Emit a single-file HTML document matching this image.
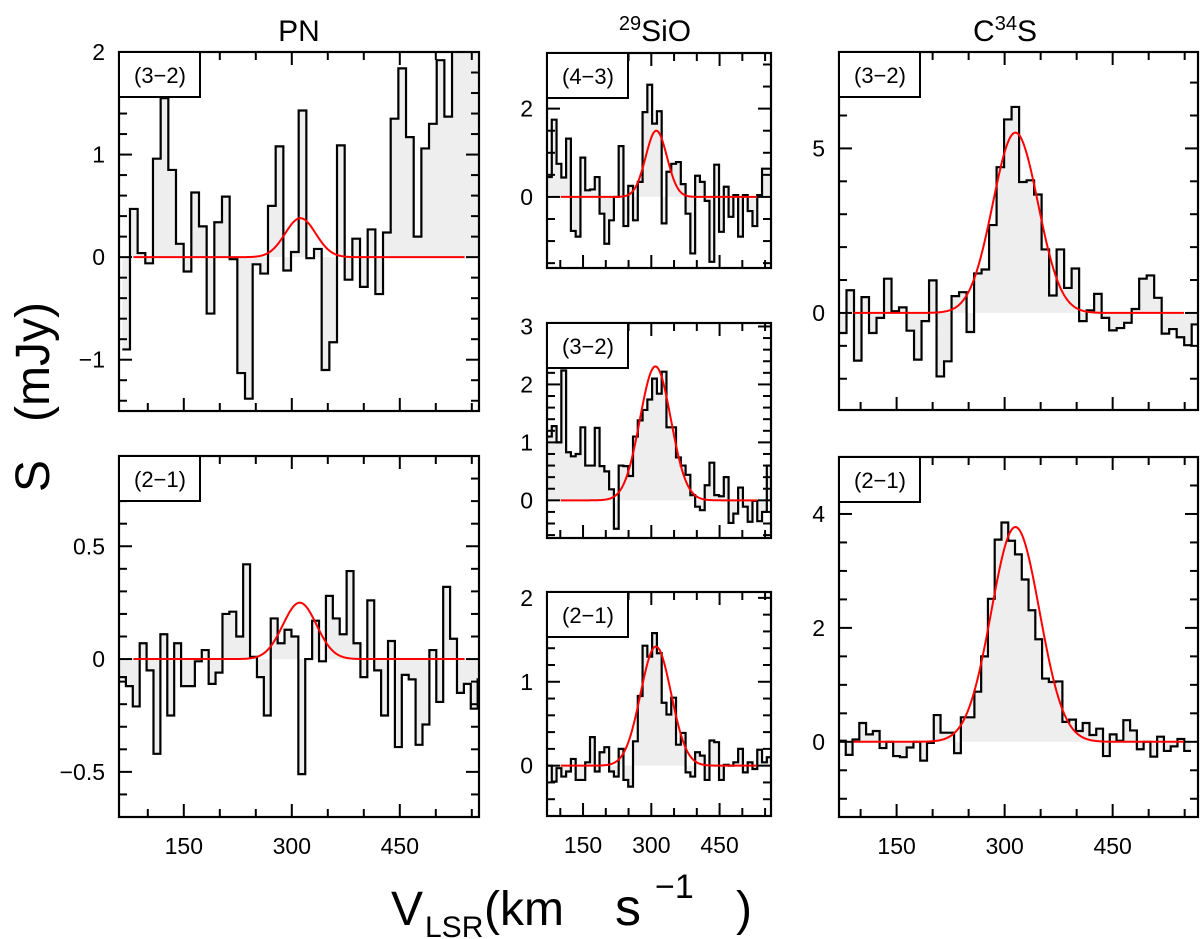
<!DOCTYPE html>
<html><head><meta charset="utf-8"><title>Spectra</title>
<style>
html,body{margin:0;padding:0;background:#fff;}
svg{display:block;font-family:"Liberation Sans",sans-serif;}
</style></head>
<body>
<svg id="chart" width="1200" height="939" viewBox="0 0 1200 939" xmlns="http://www.w3.org/2000/svg">
  <text x="299" y="41" font-size="30" text-anchor="middle">PN</text>
  <text x="655" y="41" font-size="30" text-anchor="middle"><tspan font-size="20" dy="-11">29</tspan><tspan dy="11">SiO</tspan></text>
  <text x="1005" y="41" font-size="30" text-anchor="middle">C<tspan font-size="20" dy="-11">34</tspan><tspan dy="11">S</tspan></text>
  <g transform="translate(49,492) rotate(-90)" font-size="48">
    <text x="0" y="0">S</text>
    <text x="70" y="0">(mJy)</text>
  </g>
  <g font-size="48">
    <text x="391" y="925">V</text>
    <text x="425" y="937" font-size="30">LSR</text>
    <text x="484" y="925">(km</text>
    <text x="615" y="925" font-size="52">s</text>
    <text x="655" y="898" font-size="34">−1</text>
    <text x="736" y="925">)</text>
  </g>
  <g id="panels"></g>
</svg>
<script>
// ---- PN (3-2) ----
const pn32Values = [-0.90,0.47,0.04,-0.06,0.96,1.55,0.85,0.13,-0.14,0.63,0.30,-0.55,0.34,0.59,-0.02,-1.13,-1.38,-0.07,-0.16,0.50,1.08,-0.13,0.05,1.43,-0.01,0.08,-1.10,-0.83,1.09,-0.22,0.18,-0.29,0.27,-0.36,0.24,1.35,1.84,1.17,0.20,1.06,1.30,1.92,1.37,2.10,2.10,2.10,2.10];
const pn32Fit = [0.38, 312, 50];
// ---- PN (2-1) ----
const pn21Values = [-0.08,-0.12,-0.21,0.07,-0.05,-0.42,0.11,-0.25,0.07,-0.12,-0.12,-0.01,0.04,-0.11,-0.06,0.20,0.21,0.10,0.42,0.01,-0.08,-0.25,0.18,0.07,0.13,0.10,-0.51,0.00,0.17,-0.01,0.28,0.18,0.11,0.39,0.07,-0.08,0.26,-0.05,-0.25,0.08,-0.39,-0.07,-0.09,-0.38,-0.29,0.04,-0.19,0.32,0.09,-0.15,-0.11,-0.22,-0.09];
const pn21Fit = [0.25, 311, 55];
// ---- 29SiO (4-3) ----
const sio43Values = [0.45,1.75,0.75,0.44,1.32,-0.77,-0.90,0.89,0.15,0.17,0.45,-0.38,-1.06,-0.53,0.00,1.15,-0.66,0.25,-0.53,0.34,1.92,2.54,1.66,1.94,-0.60,0.57,0.75,0.79,0.29,-0.38,-1.28,0.48,0.34,-0.09,-1.47,0.73,-0.79,0.23,-0.45,0.04,-0.90,0.04,-0.32,-0.66,0.04,0.64,0.64];
const sio43Fit = [1.5, 311, 55];
// ---- 29SiO (3-2) ----
const sio32Values = [1.10,1.28,1.00,2.24,0.83,0.76,0.80,1.26,0.60,0.60,1.25,0.59,0.50,0.19,-0.49,0.60,0.59,0.42,1.10,1.38,1.56,1.74,2.10,1.84,2.22,1.26,1.26,0.74,0.60,0.44,0.09,-0.11,-0.17,0.26,0.65,0.09,0.07,0.40,-0.39,-0.23,0.22,-0.11,-0.37,-0.01,-0.36,-0.20,0.60];
const sio32Fit = [2.31, 309, 80];
// ---- 29SiO (2-1) ----
const sio21Values = [0.00,-0.19,-0.03,-0.13,-0.07,0.08,-0.17,-0.17,0.04,0.34,-0.07,0.16,0.22,-0.07,-0.13,0.20,-0.17,-0.25,0.29,0.83,1.43,1.30,1.58,1.34,0.75,0.61,0.81,0.25,0.39,-0.08,-0.13,0.16,0.12,-0.17,0.30,0.28,-0.17,0.01,0.00,0.04,0.20,-0.08,0.04,-0.04,0.19,0.04,0.10];
const sio21Fit = [1.42, 310, 79];
// ---- C34S (3-2) ----
const cs32Values = [-0.61,0.69,-1.45,0.48,-0.61,-0.15,1.04,0.05,0.17,-0.54,-1.42,-0.25,0.99,-1.93,-1.47,0.51,0.63,-0.58,1.20,1.32,2.67,4.43,5.88,6.26,3.98,4.03,3.60,1.93,0.53,1.93,0.76,1.35,-0.25,0.08,0.58,-0.15,-0.53,-0.46,-0.30,0.12,1.04,1.14,0.46,-0.63,-0.49,-0.74,-0.98,-0.35];
const cs32Fit = [5.48, 315, 74];
// ---- C34S (2-1) ----
const cs21Values = [0.02,-0.23,0.04,0.33,0.13,0.19,-0.11,0.00,-0.25,-0.27,-0.10,0.00,-0.33,-0.02,0.47,0.16,0.16,-0.20,0.43,0.43,0.88,1.50,2.51,3.55,3.85,3.53,3.29,2.85,2.31,1.80,1.11,1.05,1.06,0.35,0.39,0.19,0.33,0.12,0.23,-0.25,0.13,0.02,0.38,0.20,-0.13,0.00,-0.26,0.09,-0.16,-0.08,0.05,-0.16];
const cs21Fit = [3.77, 315, 79];

const panelDefs = [
 {name:'pn-3-2', label:'(3\u22122)', vals:pn32Values, fit:pn32Fit, box:[119,52,479,411], xr:[60,560], yr:[-1.5,2.0], v0:64.6, dv:10.65, yMajor:1, yMinor:0.2, yLabels:[-1,0,1,2], xLabels:false, fitR:[80,540]},
 {name:'pn-2-1', label:'(2\u22121)', vals:pn21Values, fit:pn21Fit, box:[119,456,479,817], xr:[60,560], yr:[-0.70,0.90], v0:60, dv:9.58, yMajor:0.5, yMinor:0.1, yLabels:[-0.5,0,0.5], xLabels:true, fitR:[80,540]},
 {name:'sio-4-3', label:'(4\u22123)', vals:sio43Values, fit:sio43Fit, box:[547,53,771,268], xr:[70.8,563], yr:[-1.61,3.26], v0:70.8, dv:10.5, yMajor:2, yMinor:0.5, yLabels:[0,2], xLabels:false, fitR:[101,532]},
 {name:'sio-3-2', label:'(3\u22122)', vals:sio32Values, fit:sio32Fit, box:[547,323,771,538], xr:[70.8,563], yr:[-0.65,3.06], v0:70.8, dv:10.5, yMajor:1, yMinor:0.2, yLabels:[0,1,2,3], xLabels:false, fitR:[101,532]},
 {name:'sio-2-1', label:'(2\u22121)', vals:sio21Values, fit:sio21Fit, box:[547,592,771,816], xr:[70.8,563], yr:[-0.60,2.07], v0:70.8, dv:10.5, yMajor:1, yMinor:0.2, yLabels:[0,1,2], xLabels:true, fitR:[101,532]},
 {name:'c34s-3-2', label:'(3\u22122)', vals:cs32Values, fit:cs32Fit, box:[839,52,1198,410], xr:[70,568.5], yr:[-2.95,7.93], v0:70, dv:10.42, yMajor:5, yMinor:1, yLabels:[0,5], xLabels:false, fitR:[90,549]},
 {name:'c34s-2-1', label:'(2\u22121)', vals:cs21Values, fit:cs21Fit, box:[839,457,1198,817], xr:[70,568.5], yr:[-1.32,5.0], v0:70, dv:9.4, yMajor:2, yMinor:0.5, yLabels:[0,2,4], xLabels:true, fitR:[90,549]}
];
const xMajorTicks = [150,300,450];
const xMinorStep = 50;

const NS='http://www.w3.org/2000/svg';
const root=document.getElementById('panels');
function mk(tag, attrs, parent){const e=document.createElementNS(NS,tag);for(const k in attrs)e.setAttribute(k,attrs[k]);parent.appendChild(e);return e;}

panelDefs.forEach((p,pi)=>{
  const [L,T,R,B]=p.box;
  const xs=v=>L+(v-p.xr[0])/(p.xr[1]-p.xr[0])*(R-L);
  const ys=s=>B-(s-p.yr[0])/(p.yr[1]-p.yr[0])*(B-T);
  const g=mk('g',{},root);
  
  
  const cid='clip'+pi;
  const cp=mk('clipPath',{id:cid},g);
  mk('rect',{x:L,y:T,width:R-L,height:B-T},cp);
  const inner=mk('g',{'clip-path':'url(#'+cid+')'},g);
  const y0=ys(0);
  let fill='M'+xs(p.v0)+','+y0;
  let line='';
  p.vals.forEach((v,i)=>{
    const xa=xs(p.v0+i*p.dv), xb=xs(p.v0+(i+1)*p.dv), yv=ys(v);
    fill+=' L'+xa+','+yv+' L'+xb+','+yv;
    line+=(i===0?'M':' L')+xa+','+yv+' L'+xb+','+yv;
  });
  fill+=' L'+xs(p.v0+p.vals.length*p.dv)+','+y0+' Z';
  const fp=mk('path',{d:fill,fill:'#eeeeee',stroke:'none'},inner);
  
  
  const lp=mk('path',{d:line,fill:'none',stroke:'#000','stroke-width':2.2},inner);
  
  
  const [amp,cen,fw]=p.fit; const sig=fw/2.3548;
  let gd='';
  for(let v=p.fitR[0];v<=p.fitR[1];v+=1){
    const s=amp*Math.exp(-0.5*((v-cen)/sig)**2);
    gd+=(gd?' L':'M')+xs(v).toFixed(2)+','+ys(s).toFixed(2);
  }
  const gp=mk('path',{d:gd,fill:'none',stroke:'#ff0000','stroke-width':2},inner);
  
  
  const tk=mk('g',{stroke:'#000','stroke-width':2},g);
  
  
  for(let v=Math.ceil(p.xr[0]/xMinorStep)*xMinorStep; v<=p.xr[1]; v+=xMinorStep){
    const big=xMajorTicks.includes(v); const len=big?13:8; const x=xs(v);
    mk('line',{x1:x,y1:B,x2:x,y2:B-len},tk);
    mk('line',{x1:x,y1:T,x2:x,y2:T+len},tk);
  }
  const n0=Math.ceil(p.yr[0]/p.yMinor-1e-6), n1=Math.floor(p.yr[1]/p.yMinor+1e-6);
  for(let n=n0;n<=n1;n++){
    const v=n*p.yMinor; const big=Math.abs(v/p.yMajor-Math.round(v/p.yMajor))<1e-6; const len=big?13:8; const y=ys(v);
    mk('line',{x1:L,y1:y,x2:L+len,y2:y},tk);
    mk('line',{x1:R,y1:y,x2:R-len,y2:y},tk);
  }
  const fr=mk('rect',{x:L,y:T,width:R-L,height:B-T,fill:'none',stroke:'#000','stroke-width':2.2},g);
  
  
  const bx=mk('rect',{x:L,y:T,width:81,height:45,fill:'#fff',stroke:'#000','stroke-width':2},g);
  
  
  const bt=mk('text',{x:L+41,y:T+31,'font-size':22,'text-anchor':'middle'},g);
  bt.textContent=p.label;
  
  
  p.yLabels.forEach(v=>{
    const t=mk('text',{x:L-14,y:ys(v)+8,'font-size':23,'text-anchor':'end'},g);
    t.textContent=v<0?('\u2212'+Math.abs(v)):String(v);
    
    
  });
  if(p.xLabels){
    xMajorTicks.forEach(v=>{
      const t=mk('text',{x:xs(v),y:B+37,'font-size':23,'text-anchor':'middle'},g);
      t.textContent=String(v);
      
      
    });
  }
});
</script>
</body></html>
